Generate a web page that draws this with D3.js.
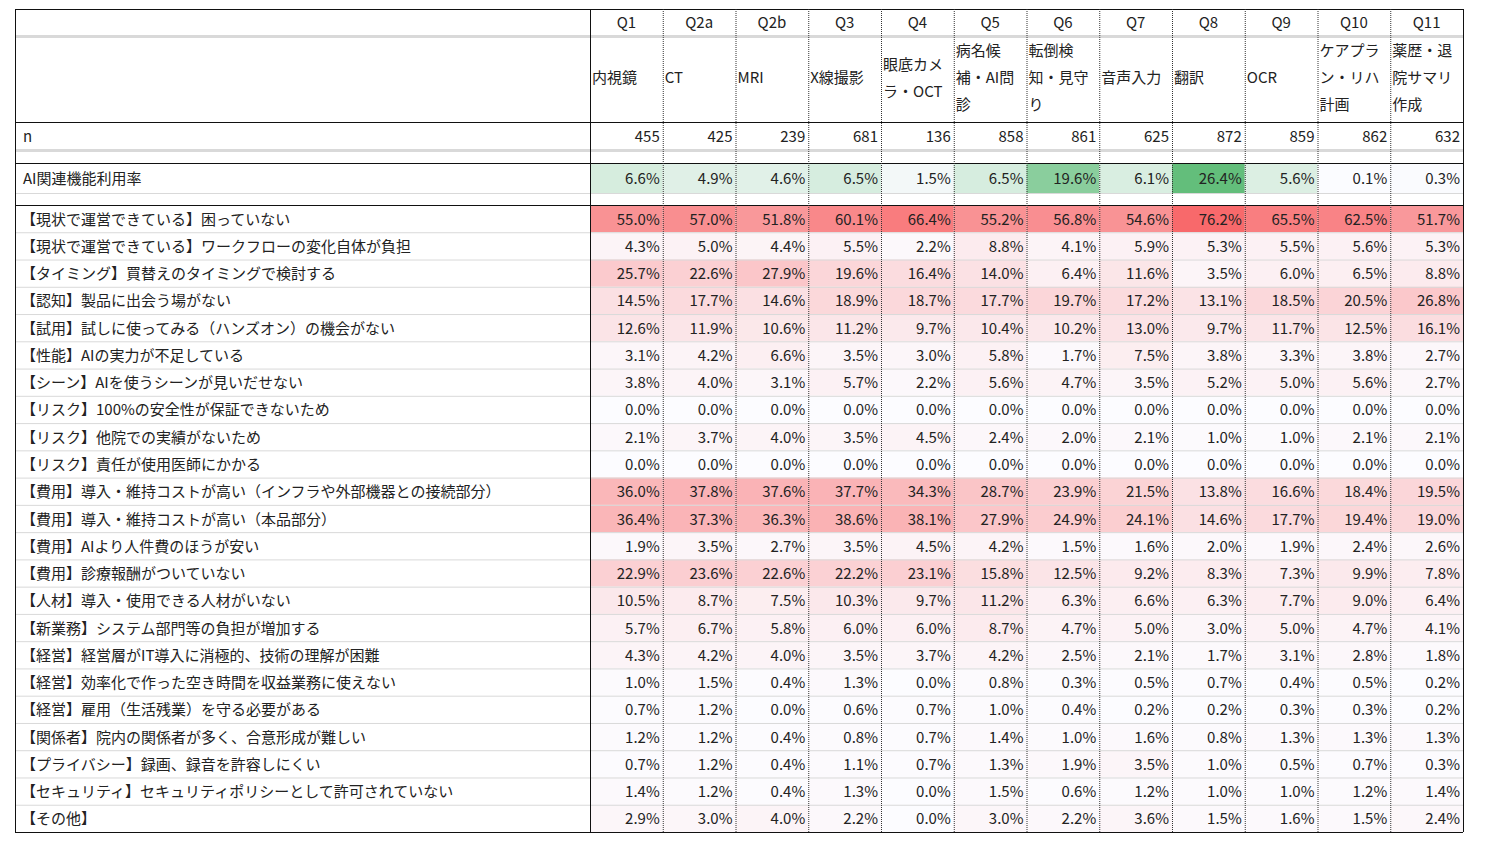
<!DOCTYPE html>
<html><head><meta charset="utf-8">
<script src="https://cdn.jsdelivr.net/npm/d3@7"></script>
<style>body{margin:0;background:#fff}text{font-family:"Noto Sans CJK JP",sans-serif;font-size:15px;fill:#222}</style>
</head><body><svg id="c" width="1488" height="845"></svg>
<script>
const codes = ["Q1","Q2a","Q2b","Q3","Q4","Q5","Q6","Q7","Q8","Q9","Q10","Q11"];
const names = [["","内視鏡",""],["","CT",""],["","MRI",""],["","X線撮影",""],["眼底カメ","ラ・OCT"],["病名候","補・AI問","診"],["転倒検","知・見守","り"],["","音声入力",""],["","翻訳",""],["","OCR",""],["ケアプラ","ン・リハ","計画"],["薬歴・退","院サマリ","作成"]];
const nVals = [455,425,239,681,136,858,861,625,872,859,862,632];
const aiRate = [6.6,4.9,4.6,6.5,1.5,6.5,19.6,6.1,26.4,5.6,0.1,0.3];
const rowLabels = ["【現状で運営できている】困っていない","【現状で運営できている】ワークフローの変化自体が負担","【タイミング】買替えのタイミングで検討する","【認知】製品に出会う場がない","【試用】試しに使ってみる（ハンズオン）の機会がない","【性能】AIの実力が不足している","【シーン】AIを使うシーンが見いだせない","【リスク】100%の安全性が保証できないため","【リスク】他院での実績がないため","【リスク】責任が使用医師にかかる","【費用】導入・維持コストが高い（インフラや外部機器との接続部分）","【費用】導入・維持コストが高い（本品部分）","【費用】AIより人件費のほうが安い","【費用】診療報酬がついていない","【人材】導入・使用できる人材がいない","【新業務】システム部門等の負担が増加する","【経営】経営層がIT導入に消極的、技術の理解が困難","【経営】効率化で作った空き時間を収益業務に使えない","【経営】雇用（生活残業）を守る必要がある","【関係者】院内の関係者が多く、合意形成が難しい","【プライバシー】録画、録音を許容しにくい","【セキュリティ】セキュリティポリシーとして許可されていない","【その他】"];
const values = [
[55.0,57.0,51.8,60.1,66.4,55.2,56.8,54.6,76.2,65.5,62.5,51.7],
[4.3,5.0,4.4,5.5,2.2,8.8,4.1,5.9,5.3,5.5,5.6,5.3],
[25.7,22.6,27.9,19.6,16.4,14.0,6.4,11.6,3.5,6.0,6.5,8.8],
[14.5,17.7,14.6,18.9,18.7,17.7,19.7,17.2,13.1,18.5,20.5,26.8],
[12.6,11.9,10.6,11.2,9.7,10.4,10.2,13.0,9.7,11.7,12.5,16.1],
[3.1,4.2,6.6,3.5,3.0,5.8,1.7,7.5,3.8,3.3,3.8,2.7],
[3.8,4.0,3.1,5.7,2.2,5.6,4.7,3.5,5.2,5.0,5.6,2.7],
[0,0,0,0,0,0,0,0,0,0,0,0],
[2.1,3.7,4.0,3.5,4.5,2.4,2.0,2.1,1.0,1.0,2.1,2.1],
[0,0,0,0,0,0,0,0,0,0,0,0],
[36.0,37.8,37.6,37.7,34.3,28.7,23.9,21.5,13.8,16.6,18.4,19.5],
[36.4,37.3,36.3,38.6,38.1,27.9,24.9,24.1,14.6,17.7,19.4,19.0],
[1.9,3.5,2.7,3.5,4.5,4.2,1.5,1.6,2.0,1.9,2.4,2.6],
[22.9,23.6,22.6,22.2,23.1,15.8,12.5,9.2,8.3,7.3,9.9,7.8],
[10.5,8.7,7.5,10.3,9.7,11.2,6.3,6.6,6.3,7.7,9.0,6.4],
[5.7,6.7,5.8,6.0,6.0,8.7,4.7,5.0,3.0,5.0,4.7,4.1],
[4.3,4.2,4.0,3.5,3.7,4.2,2.5,2.1,1.7,3.1,2.8,1.8],
[1.0,1.5,0.4,1.3,0.0,0.8,0.3,0.5,0.7,0.4,0.5,0.2],
[0.7,1.2,0.0,0.6,0.7,1.0,0.4,0.2,0.2,0.3,0.3,0.2],
[1.2,1.2,0.4,0.8,0.7,1.4,1.0,1.6,0.8,1.3,1.3,1.3],
[0.7,1.2,0.4,1.1,0.7,1.3,1.9,3.5,1.0,0.5,0.7,0.3],
[1.4,1.2,0.4,1.3,0.0,1.5,0.6,1.2,1.0,1.0,1.2,1.4],
[2.9,3.0,4.0,2.2,0.0,3.0,2.2,3.6,1.5,1.6,1.5,2.4]];

const svg = d3.select("#c");
const left = 15, labelW = 575, right = 1463;
const x = d3.scaleBand().domain(codes).range([left + labelW, right]);
const yData = d3.scaleBand().domain(d3.range(rowLabels.length)).range([205, 832]);
const red = d3.scaleLinear().domain([0, d3.max(values.flat())]).range(["#fcfcff", "#f8696b"]);
const green = d3.scaleLinear().domain([0, d3.max(aiRate)]).range(["#fcfcff", "#63be7b"]);
const fmt = v => v.toFixed(1) + "%";
const bw = x.bandwidth();

// AI row
svg.selectAll("rect.ai").data(aiRate).join("rect")
  .attr("x", (d, i) => x(codes[i])).attr("y", 163).attr("width", bw).attr("height", 30)
  .attr("fill", d => green(d));
// data cells
values.forEach((row, r) => {
  svg.selectAll(null).data(row).join("rect")
    .attr("x", (d, i) => x(codes[i])).attr("y", yData(r)).attr("width", bw).attr("height", yData.bandwidth())
    .attr("fill", d => red(d));
});

// light horizontal gridlines
const hl = [36, 150, 163, 193, 205].concat(d3.range(1, rowLabels.length).map(r => yData(r)));
svg.selectAll("line.h").data(hl).join("line")
  .attr("x1", left).attr("x2", right).attr("y1", d => d + 0.5).attr("y2", d => d + 0.5)
  .attr("stroke", "#d9d9d9").attr("stroke-width", d => (d === 36 || d === 150) ? 3 : 1);
// dark horizontal borders
[9, 122, 163, 205, 832].forEach(y => svg.append("line").attr("x1", left).attr("x2", right)
  .attr("y1", y + 0.5).attr("y2", y + 0.5).attr("stroke", "#111"));
// vertical dotted
codes.slice(1).forEach(c => svg.append("line").attr("x1", x(c) + 0.5).attr("x2", x(c) + 0.5)
  .attr("y1", 9).attr("y2", 832).attr("stroke", "#333").attr("stroke-dasharray", "1,1"));
[left, left + labelW, right].forEach(xx => svg.append("line").attr("x1", xx + 0.5).attr("x2", xx + 0.5)
  .attr("y1", 9).attr("y2", 832).attr("stroke", "#111"));

// header text
svg.selectAll("text.q").data(codes).join("text")
  .attr("x", d => x(d) + bw / 2).attr("y", 28).attr("text-anchor", "middle").text(d => d);
names.forEach((lines, i) => {
  const ls = lines.length === 2 ? lines : lines;
  const y0 = lines.length === 2 ? 70 : 56;
  lines.forEach((t, k) => svg.append("text").attr("x", x(codes[i]) + 2)
    .attr("y", y0 + k * 27).text(t));
});
svg.selectAll("text.n").data(nVals).join("text")
  .attr("x", (d, i) => x(codes[i]) + bw - 3).attr("y", 142).attr("text-anchor", "end").text(d => d);
svg.append("text").attr("x", left + 8).attr("y", 142).text("n");
svg.selectAll("text.ai").data(aiRate).join("text")
  .attr("x", (d, i) => x(codes[i]) + bw - 3).attr("y", 184).attr("text-anchor", "end").text(fmt);
svg.append("text").attr("x", left + 8).attr("y", 184).text("AI関連機能利用率");

// data text
svg.selectAll("text.lbl").data(rowLabels).join("text")
  .attr("x", left + 6).attr("y", (d, i) => yData(i) + yData.bandwidth() / 2 + 6).text(d => d);
values.forEach((row, r) => {
  svg.selectAll(null).data(row).join("text")
    .attr("x", (d, i) => x(codes[i]) + bw - 3).attr("y", yData(r) + yData.bandwidth() / 2 + 6)
    .attr("text-anchor", "end").text(fmt);
});
</script></body></html>
